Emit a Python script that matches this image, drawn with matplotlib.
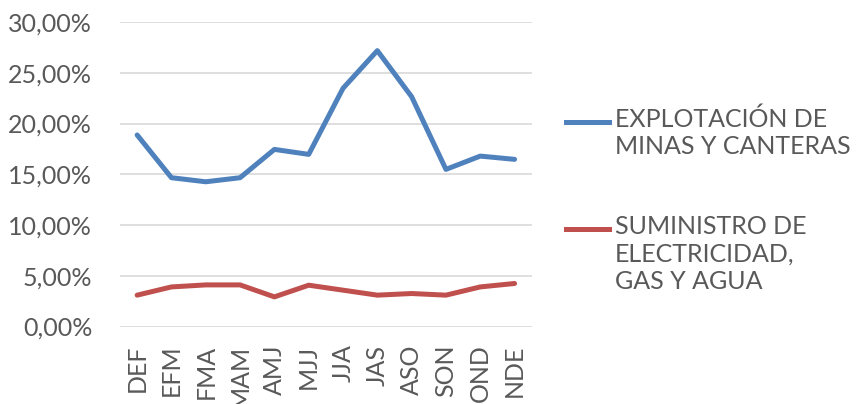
import matplotlib
matplotlib.use("Agg")
import matplotlib.pyplot as plt
from matplotlib.lines import Line2D
from matplotlib.ticker import FuncFormatter

categories = ["DEF", "EFM", "FMA", "MAM", "AMJ", "MJJ", "JJA", "JAS", "ASO", "SON", "OND", "NDE"]
mineria = [18.87, 14.66, 14.26, 14.66, 17.45, 16.96, 23.47, 27.18, 22.64, 15.48, 16.79, 16.47]
electricidad = [3.09, 3.90, 4.10, 4.10, 2.92, 4.07, 3.58, 3.09, 3.25, 3.09, 3.90, 4.24]
series_labels = ["EXPLOTACIÓN DE\nMINAS Y CANTERAS", "SUMINISTRO DE\nELECTRICIDAD,\nGAS Y AGUA"]
yticks = [0, 5, 10, 15, 20, 25, 30]

BLUE = "#4F81BD"
RED = "#C0504D"
TXT = "#595959"
FONT = "Lato"
FS = 18

plt.rcParams['font.family'] = [FONT, 'DejaVu Sans']

fig = plt.figure(figsize=(8.59, 4.04), dpi=100)
ax = fig.add_axes([0.1397, 0.1918, 0.4793, 0.7537])

x = list(range(len(categories)))
ax.plot(x, mineria, color=BLUE, lw=3.6, solid_joinstyle='round', solid_capstyle='round', zorder=3)
ax.plot(x, electricidad, color=RED, lw=3.6, solid_joinstyle='round', solid_capstyle='round', zorder=3)

ax.set_xlim(-0.5, len(categories) - 0.5)
ax.set_ylim(0, 30)
ax.set_yticks(yticks)
ax.yaxis.set_major_formatter(FuncFormatter(lambda v, p: f"{v:.2f}".replace(".", ",") + "%"))
ax.set_xticks(x)
ax.set_xticklabels(categories, rotation=90, va='top', ha='center')
ax.grid(axis='y', color="#D9D9D9", lw=1.2)
ax.set_axisbelow(True)
for s in ax.spines.values():
    s.set_visible(False)
ax.tick_params(axis='both', length=0, labelsize=FS, labelcolor=TXT)
ax.tick_params(axis='y', pad=20)
ax.tick_params(axis='x', pad=13)

# legend
entries = [(BLUE, series_labels[0], 0.699), (RED, series_labels[1], 0.433)]
for col, lab, yy in entries:
    fig.add_artist(Line2D([0.659, 0.709], [yy, yy], color=col, lw=3.6, transform=fig.transFigure))
    fig.text(0.716, yy + 0.036, lab, color=TXT, fontsize=FS, va='top', ha='left', linespacing=1.24)

fig.savefig("out.png", dpi=100)
